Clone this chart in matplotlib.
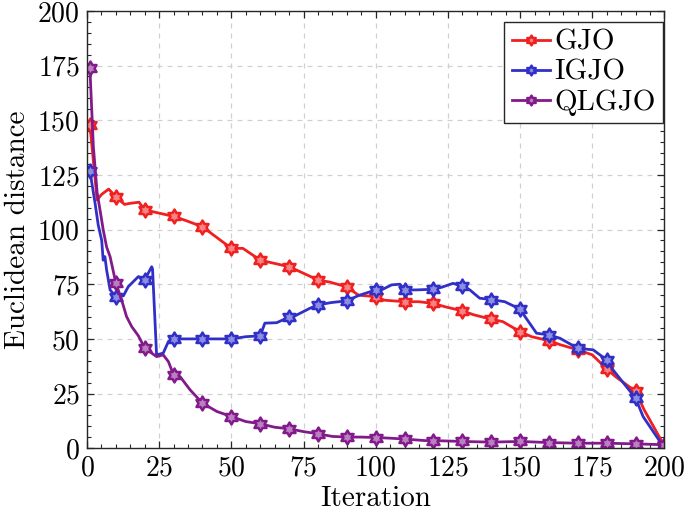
import numpy as np
import matplotlib
matplotlib.use("Agg")
import matplotlib.pyplot as plt
from matplotlib.path import Path
from matplotlib.colors import to_rgb

# GJO
gjo_x = [1, 3.5, 5, 7.5, 10, 13, 15, 18, 20, 25, 30, 33, 40, 43, 50, 54, 60, 64, 70, 75,
         80, 84, 90, 94, 100, 103, 110, 115, 120, 124, 130, 134, 140, 144, 150, 154, 160,
         164, 170, 175, 180, 183, 190, 193, 200]
gjo_y = [148, 113.5, 116, 118.5, 115, 111.5, 112, 112.5, 109, 107.5, 106, 104.7, 101.3, 98.3,
         91.4, 91.4, 86, 84.8, 83, 80, 76.9, 76, 73.8, 70, 69.3, 67.7, 67, 67, 66.2, 64.7,
         62.8, 61, 59, 57.9, 53.3, 51, 49.2, 47.3, 45, 42.7, 36.3, 32.8, 26, 17.5, 1]

# IGJO
igjo_x = [1, 2.8, 3.9, 5.1, 5.6, 6.2, 6.8, 8, 10, 12.6, 14.3, 17.8, 18.9, 20, 21.8, 22.4,
          22.7, 24.1, 26.4, 28.2, 30, 40, 50, 55, 60, 61.6, 65.7, 70, 72, 77.2, 80, 84.5,
          90, 94, 100, 102, 105.5, 108.4, 110, 114, 120, 122.8, 126.8, 130, 132.6, 136, 140,
          144.7, 150, 151.7, 155.7, 160, 163.8, 170, 175.3, 180, 182.2, 190, 192.6, 200]
igjo_y = [127, 112, 102, 95, 86, 87.6, 81.5, 72.4, 69.3, 69.7, 73.9, 78.5, 77.7, 77, 81.5, 83,
          82, 42.7, 43.5, 48.8, 50, 50, 50, 51, 51.4, 57.2, 57.4, 60, 60.5, 64, 65.5, 66.6,
          67.4, 69.8, 72.4, 72.4, 74.7, 75, 72.4, 72.4, 72.7, 73.6, 75.4, 74, 72.4, 68.6, 68,
          67, 63.6, 60.2, 52.6, 51.8, 50.3, 45.7, 45, 40.4, 35.8, 22.9, 14.5, 0]

# QLGJO
qlgjo_x = [1, 2.2, 3.5, 5, 5.6, 6.8, 8, 10, 12, 13.7, 15.5, 17.8, 20, 22.4, 24.1, 26.4, 28.2,
           30, 32.2, 35.7, 40, 45, 50, 55, 60, 65, 70, 75, 80, 85, 90, 95, 100, 105, 110,
           117, 120, 130, 140, 150, 160, 170, 180, 190, 200]
qlgjo_y = [174, 138, 117, 105, 100, 92, 87.6, 75.5, 67.8, 60.2, 55.6, 51.4, 45.7, 43.5, 41.9,
           42.7, 39.6, 33.5, 32.8, 26.7, 20.6, 16.8, 14.5, 12.2, 11.2, 9.6, 8.9, 7.6, 6.6,
           5.4, 5.1, 5.1, 4.9, 4.6, 4.2, 3.5, 3.5, 3.1, 2.8, 3.1, 2.6, 2.3, 2.3, 2.0, 1.6]

marks = [1] + list(range(10, 201, 10))
ticks = list(range(0, 201, 25))

plt.rcParams['font.family'] = 'cmr10'
plt.rcParams['mathtext.fontset'] = 'cm'
plt.rcParams['axes.formatter.use_mathtext'] = True

# hexagram marker (like MATLAB 'h')
ang = np.pi / 2 + np.arange(12) * np.pi / 6
rad = np.where(np.arange(12) % 2 == 0, 1.0, 1 / np.sqrt(3))
verts = np.column_stack([rad * np.cos(ang), rad * np.sin(ang)])
hexagram = Path(np.vstack([verts, verts[:1]]), closed=True)


def mark_idx(xs):
    return [i for i, x in enumerate(xs) if x in marks]


def tint(c, f=0.45):
    r, g, b = to_rgb(c)
    return (r + (1 - r) * f, g + (1 - g) * f, b + (1 - b) * f)


fig = plt.figure(figsize=(6.85, 5.17), dpi=100)
ax = fig.add_axes([0.127, 0.133, 0.843, 0.846])

series = [
    (gjo_x, gjo_y, '#f02020', 'GJO'),
    (igjo_x, igjo_y, '#3030c8', 'IGJO'),
    (qlgjo_x, qlgjo_y, '#821a8c', 'QLGJO'),
]
for xs, ys, c, name in series:
    ax.plot(xs, ys, color=c, lw=2.0, marker=hexagram, markersize=10,
            markevery=mark_idx(xs), markerfacecolor=tint(c), markeredgewidth=1.8,
            label=name)

ax.set_xlim(0, 200)
ax.set_ylim(0, 200)
ax.set_xticks(ticks)
ax.set_yticks(ticks)
ax.set_xticks(range(0, 201, 5), minor=True)
ax.set_yticks(range(0, 201, 5), minor=True)
ax.tick_params(which='both', direction='in', top=True, right=True, labelsize=20,
               color='#262626')
ax.tick_params(which='major', length=5, width=0.9, pad=5)
ax.tick_params(which='minor', length=3, width=0.8)
ax.grid(True, which='major', ls=(0, (4, 4)), color='#d0d0d0', lw=0.9)
for s in ax.spines.values():
    s.set_color('#262626')
    s.set_linewidth(1.0)

ax.set_xlabel('Iteration', fontsize=21, labelpad=3)
ax.set_ylabel('Euclidean distance', fontsize=21, labelpad=5)

leg = ax.legend(loc='upper right', bbox_to_anchor=(0.997, 0.974), borderaxespad=0,
                fontsize=21, fancybox=False, framealpha=1, edgecolor='#262626',
                handlelength=1.3, handletextpad=0.15, labelspacing=0.12,
                borderpad=0.25, markerscale=0.7)
leg.get_frame().set_linewidth(1.0)

fig.savefig('out.png', dpi=100)
